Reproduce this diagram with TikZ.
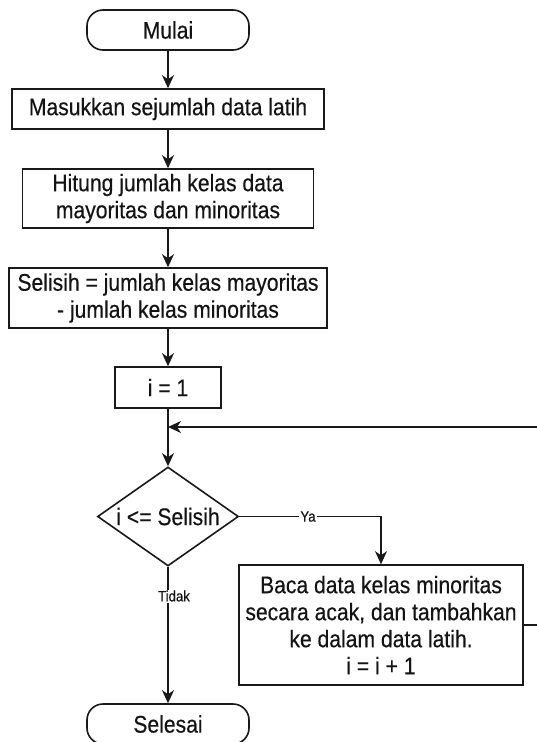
\documentclass[tikz,border=0pt]{standalone}
\usepackage{fontspec}
\setmainfont{Liberation Sans}[FakeStretch=0.88,FakeBold=0.4]
\usetikzlibrary{shapes.geometric,arrows.meta}
\begin{document}
\begin{tikzpicture}[x=1pt,y=-1pt,
  every node/.style={inner sep=0pt, text=black!92},
  bigtext/.style={font=\fontsize{24}{27}\selectfont, align=center},
  line/.style={line width=1.6pt, draw=black!90},
  term/.style={line, rounded corners=16pt, minimum width=162pt, minimum height=40pt, bigtext},
  proc/.style={line, bigtext},
  dec/.style={line, diamond, shape aspect=1.42, minimum width=141pt, minimum height=99pt, bigtext},
  lbl/.style={font=\fontsize{15}{16}\selectfont, fill=white, inner sep=1pt},
  arr/.style={line, -{Stealth[length=13pt,width=12pt,inset=4pt]}}
]
\useasboundingbox (0,0) rectangle (537,742);
\clip (0,0) rectangle (537,742);

\node[term] (start) at (168,30) {Mulai};
\node[proc, minimum width=312pt, minimum height=40pt] (input) at (168,109) {Masukkan sejumlah data latih};
\node[proc, minimum width=291pt, minimum height=59pt] (count) at (168,198.5) {Hitung jumlah kelas data\\mayoritas dan minoritas};
\node[proc, minimum width=318pt, minimum height=60pt] (diff) at (168,298) {Selisih = jumlah kelas mayoritas\\- jumlah kelas minoritas};
\node[proc, minimum width=106pt, minimum height=41pt] (init) at (168,387.5) {i = 1};
\node[dec] (cond) at (168,516.5) {i <= Selisih};
\node[proc, minimum width=284pt, minimum height=120pt] (body) at (381,625) {Baca data kelas minoritas\\secara acak, dan tambahkan\\ke dalam data latih.\\i = i + 1};
\node[term] (end) at (168,724) {Selesai};
\coordinate (join) at (168,427);

\draw[arr] (start) -- (input);
\draw[arr] (input) -- (count);
\draw[arr] (count) -- (diff);
\draw[arr] (diff) -- (init);
\draw[arr] (init) -- (cond);
\draw[arr] (body.east) -- ++(40,0) |- (join);
\draw[arr] (cond.east) -| (body.north);
\draw[arr] (cond) -- (end);
\node[lbl] (ya) at (308,516.5) {Ya};
\node[lbl] (tidak) at (174,596) {Tidak};
\end{tikzpicture}
\end{document}
